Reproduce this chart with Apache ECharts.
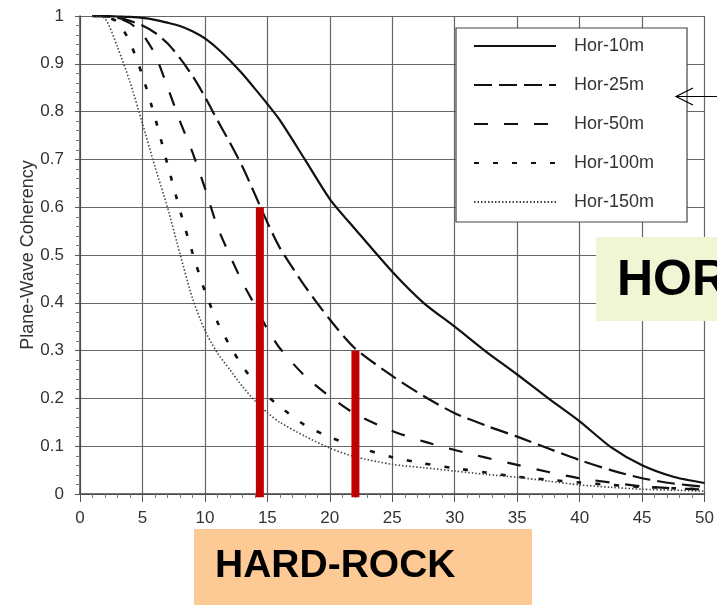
<!DOCTYPE html>
<html>
<head>
<meta charset="utf-8">
<script src="https://cdn.jsdelivr.net/npm/echarts@6/dist/echarts.min.js"></script>
<style>
html,body{margin:0;padding:0;background:#fff;}
#chart{width:717px;height:605px;}
</style>
</head>
<body>
<div id="chart"></div>
<script>
const distance = [1,2,3,4,5,6,7,8,9,10,11,12,13,14,15,16,18,20,22,25,27.5,30,32.5,35,37.5,40,42.5,45,47.5,50];
const hor10  = [1,1,0.999,0.998,0.996,0.992,0.986,0.979,0.968,0.953,0.932,0.907,0.879,0.848,0.816,0.782,0.70,0.617,0.555,0.465,0.40,0.35,0.298,0.25,0.20,0.152,0.098,0.06,0.036,0.023];
const hor25  = [1,0.999,0.996,0.99,0.98,0.965,0.943,0.912,0.875,0.831,0.782,0.735,0.685,0.627,0.568,0.515,0.435,0.365,0.305,0.247,0.205,0.169,0.143,0.12,0.095,0.071,0.05,0.033,0.022,0.015];
const hor50  = [1,0.999,0.996,0.985,0.962,0.92,0.852,0.78,0.715,0.64,0.559,0.499,0.443,0.395,0.345,0.305,0.247,0.204,0.168,0.132,0.11,0.092,0.076,0.061,0.046,0.033,0.024,0.016,0.012,0.009];
const hor100 = [1,0.998,0.988,0.945,0.875,0.788,0.69,0.594,0.505,0.424,0.36,0.31,0.268,0.232,0.205,0.183,0.144,0.119,0.1,0.077,0.064,0.054,0.045,0.036,0.03,0.024,0.019,0.015,0.012,0.01];
const hor150 = [1,0.995,0.935,0.862,0.775,0.685,0.6,0.503,0.41,0.342,0.295,0.26,0.225,0.195,0.17,0.15,0.121,0.096,0.078,0.062,0.055,0.048,0.041,0.035,0.027,0.019,0.014,0.01,0.008,0.006];
const seriesNames = ['Hor-10m','Hor-25m','Hor-50m','Hor-100m','Hor-150m'];
const redBarX = [14.4, 22.05];
const redBarTop = [0.6, 0.3];
const xTicks = [0,5,10,15,20,25,30,35,40,45,50];
const yTicks = [0,0.1,0.2,0.3,0.4,0.5,0.6,0.7,0.8,0.9,1];

const pair = (ys) => distance.map((d, i) => [d, ys[i]]);
const styles = [
  {type:'solid', width:2.2, color:'#111'},
  {type:[18,7], width:2.2, color:'#111'},
  {type:[14,16], width:2.2, color:'#111'},
  {type:[5,14], width:2.6, color:'#111'},
  {type:[1.5,2], width:1.6, color:'#444'}
];
const allData = [hor10, hor25, hor50, hor100, hor150];
const FONT = '"Liberation Sans", Arial, sans-serif';

const series = allData.map((ys, i) => ({
  name: seriesNames[i],
  type: 'line',
  data: pair(ys),
  symbol: 'none',
  smooth: 0.25,
  lineStyle: Object.assign({join: 'round'}, styles[i]),
  itemStyle: {color: styles[i].color},
  z: 3
}));
redBarX.forEach((x, i) => {
  series.push({
    type: 'line',
    data: [[x, -0.007], [x, redBarTop[i]]],
    symbol: 'none',
    clip: false,
    lineStyle: {color: '#c00000', width: 8, cap: 'butt'},
    z: 5,
    silent: true
  });
});

const chart = echarts.init(document.getElementById('chart'), null, {renderer: 'canvas'});
chart.setOption({
  animation: false,
  backgroundColor: '#fff',
  grid: {left: 80, right: 11, top: 16, bottom: 111, containLabel: false},
  xAxis: {
    type: 'value', min: xTicks[0], max: xTicks[xTicks.length-1], interval: 5,
    axisLine: {show: true, lineStyle: {color: '#444', width: 1.5}},
    axisTick: {show: true, length: 8, lineStyle: {color: '#555'}},
    minorTick: {show: true, splitNumber: 5, length: 4, lineStyle: {color: '#777'}},
    splitLine: {show: true, lineStyle: {color: '#666', width: 1.2}},
    axisLabel: {fontFamily: FONT, fontSize: 17, color: '#333', margin: 16}
  },
  yAxis: {
    type: 'value', min: yTicks[0], max: yTicks[yTicks.length-1], interval: 0.1,
    name: 'Plane-Wave Coherency', nameLocation: 'middle', nameGap: 43,
    nameMoveOverlap: false,
    nameTextStyle: {fontFamily: FONT, fontSize: 18, color: '#333'},
    axisLine: {show: true, lineStyle: {color: '#444', width: 1.5}},
    axisTick: {show: true, length: 5, lineStyle: {color: '#555'}},
    minorTick: {show: true, splitNumber: 5, length: 4, lineStyle: {color: '#777'}},
    splitLine: {show: true, lineStyle: {color: '#666', width: 1.2}},
    axisLabel: {fontFamily: FONT, fontSize: 17, color: '#333', margin: 16}
  },
  legend: {
    data: seriesNames,
    orient: 'vertical',
    left: 456, top: 28,
    itemWidth: 82, itemHeight: 14, itemGap: 21,
    padding: [9, 33, 11, 17],
    backgroundColor: '#fff',
    borderColor: '#444', borderWidth: 1.2,
    selectedMode: false,
    itemStyle: {color: 'rgba(0,0,0,0)', borderWidth: 0, opacity: 0},
    textStyle: {fontFamily: FONT, fontSize: 18, color: '#333', padding: [0,0,0,13]},
    z: 10
  },
  graphic: [
    {type: 'rect', left: 596, top: 237, z: 20, shape: {width: 130, height: 84}, style: {fill: '#f0f6d4'}},
    {type: 'text', left: 617, top: 256, z: 21, style: {text: 'HORIZONTAL', font: 'bold 50px "Liberation Sans", Arial, sans-serif', fill: '#000'}},
    {type: 'rect', left: 194, top: 529, z: 20, shape: {width: 338, height: 80}, style: {fill: '#fdca96'}},
    {type: 'text', left: 215, top: 547, z: 21, style: {text: 'HARD-ROCK', font: 'bold 39px "Liberation Sans", Arial, sans-serif', fill: '#000'}},
    {type: 'line', z: 21, shape: {x1: 676, y1: 96.5, x2: 720, y2: 96.5}, style: {stroke: '#000', lineWidth: 1.2}},
    {type: 'polyline', z: 21, shape: {points: [[693, 88], [676, 96.5], [693, 105]]}, style: {stroke: '#000', lineWidth: 1.2, fill: null}}
  ],
  series: series
});
</script>
</body>
</html>
